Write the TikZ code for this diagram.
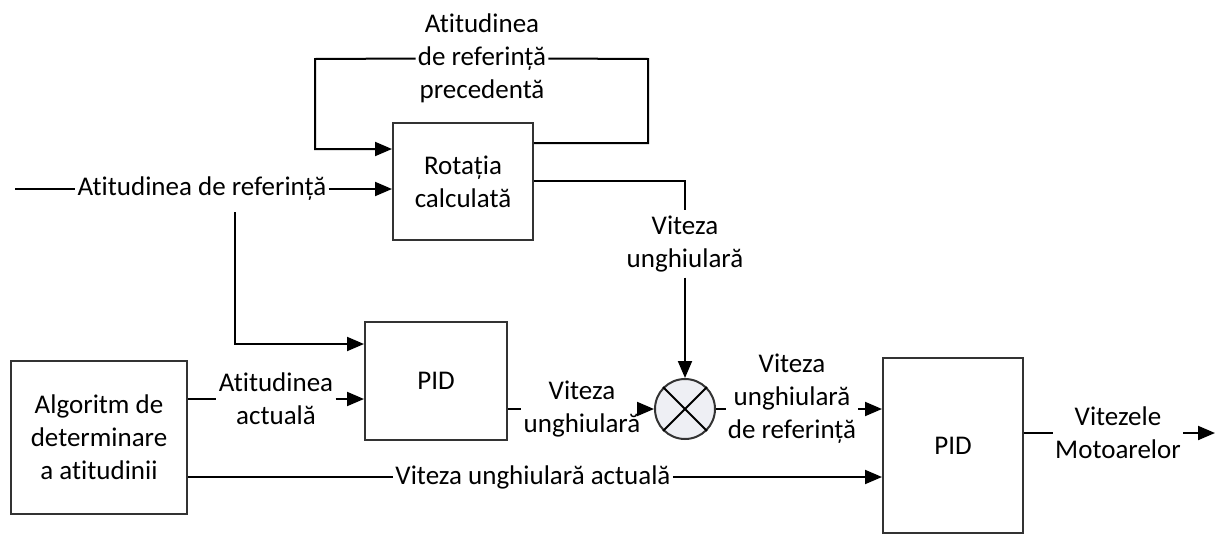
\documentclass[tikz,border=0pt]{standalone}
\usepackage{fontspec}
\setmainfont{Carlito}[Ligatures=NoCommon]
\usetikzlibrary{arrows.meta, calc}
\definecolor{mixfill}{RGB}{238,239,244}
\tikzset{
  font=\fontsize{13.5}{16.5}\selectfont,
  block/.style = {
    rectangle,
    draw=black!80,
    line width=1pt,
    align=center,
    inner sep=0pt
  },
  sig/.style = {
    align=center,
    inner xsep=1pt,
    inner ysep=2.5pt
  },
  wire/.style = {
    line width=1pt
  },
  arr/.style = {
    wire,
    -{Triangle[length=8.5pt,width=7pt]}
  }
}

\begin{document}
\begin{tikzpicture}[x=0.5pt,y=-0.5pt]
  \useasboundingbox (0,0) rectangle (1222,536);

  % blocks
  \node[block, minimum width=70pt, minimum height=58.5pt] (rot) at (463,181.5) {Rotația\\calculată};
  \node[block, minimum width=71pt, minimum height=59pt] (pida) at (436,381) {PID};
  \node[block, minimum width=88pt, minimum height=76.5pt] (alg) at (99,437.5) {Algoritm de\\determinare\\a atitudinii};
  \node[block, minimum width=70pt, minimum height=87.5pt] (pidb) at (953,445.5) {PID};
  \node[circle, draw=black!80, fill=mixfill, line width=1pt, minimum size=30pt, inner sep=0pt] (mix) at (685,409) {};
  \draw[wire] (mix.north west) -- (mix.south east) (mix.north east) -- (mix.south west);

  % signal labels
  \node[sig] (lref) at (202,189) {Atitudinea de referință};
  \node[sig] (lprev) at (482,58.5) {Atitudinea\\de referință\\precedentă};
  \node[sig] (lomega) at (685,244) {Viteza\\unghiulară};
  \node[sig] (lact) at (276,399) {Atitudinea\\actuală};
  \node[sig] (lomb) at (582,409) {Viteza\\unghiulară};
  \node[sig] (lomref) at (792,399) {Viteza\\unghiulară\\de referință};
  \node[sig] (lwact) at (533,477) {Viteza unghiulară actuală};
  \node[sig] (lmot) at (1118,433) {Vitezele\\Motoarelor};

  \coordinate (in0) at (15,189);
  \coordinate (tap) at (235,212);
  \coordinate (loopl) at (315,59);
  \coordinate (loopr) at (648,59);
  \coordinate (out0) at (1215,433);

  % reference attitude
  \draw[wire] (in0) -- (lref.west);
  \draw[arr] (lref.east) -- (lref.east -| rot.west);
  \draw[arr] (tap) |- ($(pida.north west)+(0,23)$);

  % previous reference loop
  \draw[wire] ($(rot.north east)+(0,21)$) -| (loopr) -- (lprev.east);
  \draw[arr] (lprev.west) -- (loopl) |- ($(rot.north west)+(0,27)$);

  % angular rate from rotation
  \draw[wire] ($(rot.north east)+(0,59)$) -| (lomega.north);
  \draw[arr] (lomega.south) -- (mix.north);

  % actual attitude
  \draw[wire] (alg.east |- lact.west) -- (lact.west);
  \draw[arr] (lact.east) -- (lact.east -| pida.west);

  % PID output to mixer
  \draw[wire] (pida.east |- lomb.west) -- (lomb.west);
  \draw[arr] (lomb.east) -- (mix.west);

  % mixer to second PID
  \draw[wire] (mix.east) -- (mix.east -| lomref.west);
  \draw[arr] (lomref.east |- mix.east) -- (mix.east -| pidb.west);

  % actual angular rate
  \draw[wire] (alg.east |- lwact.west) -- (lwact.west);
  \draw[arr] (lwact.east) -- (lwact.east -| pidb.west);

  % motors
  \draw[wire] (pidb.east |- lmot.west) -- (lmot.west);
  \draw[arr] (lmot.east) -- (out0);
\end{tikzpicture}
\end{document}
